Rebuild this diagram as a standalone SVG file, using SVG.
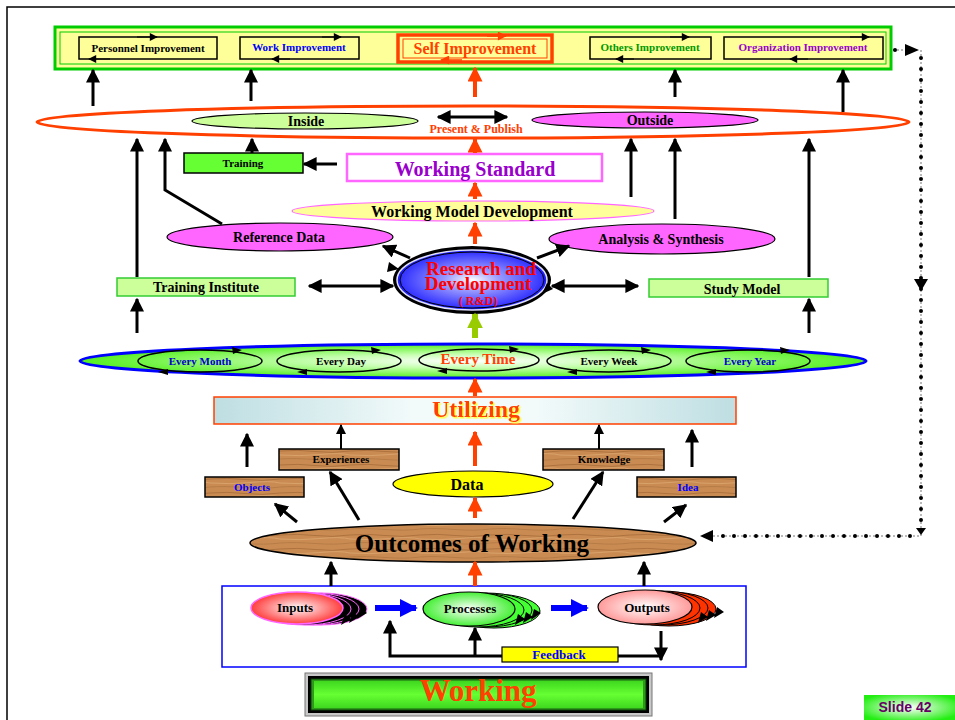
<svg xmlns="http://www.w3.org/2000/svg" width="955" height="720" viewBox="0 0 955 720">
<defs>
<style>
text{font-family:"Liberation Serif","Times New Roman",serif;font-weight:bold;text-anchor:middle}
.k{stroke:#000;stroke-width:3;fill:none}
.kt{stroke:#000;stroke-width:2;fill:none}
.r{stroke:#FF4000;stroke-width:4;fill:none}
.box{fill:none;stroke:#000;stroke-width:1.5}
.wood{fill:url(#wood);stroke:#000;stroke-width:1.5}
.cyc{fill:none;stroke:#000;stroke-width:1.5}
.dots{stroke:#000;stroke-width:4;stroke-linecap:round;stroke-dasharray:0 11;fill:none}
.dash{stroke:#777;stroke-width:1;stroke-dasharray:2 2;fill:none}
</style>
<marker id="ah" viewBox="0 0 10 10" refX="9" refY="5" markerWidth="14" markerHeight="14" markerUnits="userSpaceOnUse" orient="auto-start-reverse"><path d="M0,0 L10,5 L0,10 z" fill="#000"/></marker>
<marker id="ahs" viewBox="0 0 10 10" refX="9" refY="5" markerWidth="10" markerHeight="10" markerUnits="userSpaceOnUse" orient="auto"><path d="M0,0 L10,5 L0,10 z" fill="#000"/></marker>
<marker id="ahr" viewBox="0 0 10 10" refX="9" refY="5" markerWidth="15" markerHeight="15" markerUnits="userSpaceOnUse" orient="auto"><path d="M0,0 L10,5 L0,10 z" fill="#FF4000"/></marker>
<marker id="ahb" viewBox="0 0 10 10" refX="9" refY="5" markerWidth="18" markerHeight="18" markerUnits="userSpaceOnUse" orient="auto"><path d="M0,0 L10,5 L0,10 z" fill="#0000FF"/></marker>
<marker id="ahg" viewBox="0 0 10 10" refX="9" refY="5" markerWidth="16" markerHeight="16" markerUnits="userSpaceOnUse" orient="auto"><path d="M0,0 L10,5 L0,10 z" fill="#99CC00"/></marker>
<marker id="cyk" viewBox="0 0 10 10" refX="9" refY="5" markerWidth="9" markerHeight="8" markerUnits="userSpaceOnUse" orient="auto"><path d="M0,0 L10,5 L0,10 z" fill="#000"/></marker>
<marker id="cyr" viewBox="0 0 10 10" refX="9" refY="5" markerWidth="11" markerHeight="9" markerUnits="userSpaceOnUse" orient="auto"><path d="M0,0 L10,5 L0,10 z" fill="#FF4000"/></marker>
<pattern id="wood" width="70" height="14" patternUnits="userSpaceOnUse">
<rect width="70" height="14" fill="#C98B52"/>
<path d="M0,3 Q18,1.5 35,3.5 T70,3" stroke="#A66B38" stroke-width="0.8" fill="none"/>
<path d="M0,7 Q20,8.5 40,6.5 T70,7" stroke="#D9A26B" stroke-width="1" fill="none"/>
<path d="M0,11 Q15,10 35,11.5 T70,11" stroke="#AE743F" stroke-width="0.7" fill="none"/>
</pattern>
<radialGradient id="gTime" cx="0.5" cy="0.5" r="0.5"><stop offset="0" stop-color="#FFFFFF"/><stop offset="0.4" stop-color="#C6FFB0"/><stop offset="1" stop-color="#55F020"/></radialGradient>
<linearGradient id="gUtil" x1="0" y1="0" x2="1" y2="0"><stop offset="0" stop-color="#BEDEE2"/><stop offset="0.38" stop-color="#F2FAFA"/><stop offset="0.62" stop-color="#F2FAFA"/><stop offset="1" stop-color="#BEDEE2"/></linearGradient>
<radialGradient id="gRD" cx="0.5" cy="0.5" r="0.55"><stop offset="0" stop-color="#FFFFFF"/><stop offset="0.35" stop-color="#9999FF"/><stop offset="1" stop-color="#2020FF"/></radialGradient>
<radialGradient id="gIn" cx="0.5" cy="0.5" r="0.55"><stop offset="0" stop-color="#FFFFFF"/><stop offset="1" stop-color="#FF2A2A"/></radialGradient>
<radialGradient id="gPr" cx="0.5" cy="0.5" r="0.55"><stop offset="0" stop-color="#FFFFFF"/><stop offset="1" stop-color="#33EE22"/></radialGradient>
<radialGradient id="gOut" cx="0.5" cy="0.5" r="0.55"><stop offset="0" stop-color="#FFFFFF"/><stop offset="1" stop-color="#FF9090"/></radialGradient>
<radialGradient id="gSlide" cx="0.5" cy="0.5" r="0.6"><stop offset="0" stop-color="#FFFFFF"/><stop offset="1" stop-color="#22EE11"/></radialGradient>
<linearGradient id="gWork" x1="0" y1="0" x2="0" y2="1"><stop offset="0" stop-color="#3FD81F"/><stop offset="0.5" stop-color="#66FF33"/><stop offset="1" stop-color="#3FD81F"/></linearGradient>
<filter id="yshadow" x="-10%" y="-30%" width="120%" height="160%"><feDropShadow dx="1.5" dy="1.5" stdDeviation="0" flood-color="#FFFF33" flood-opacity="1"/></filter>
</defs>

<rect width="955" height="720" fill="#FFFFFF"/>
<!-- slide frame -->
<path d="M7,720 V7 H955" fill="none" stroke="#000" stroke-width="1.5"/>

<!-- improvement band -->
<g id="improvement-band">
<rect x="55" y="27" width="836" height="42" fill="#FFFF99" stroke="#00CC00" stroke-width="3"/>
<rect x="60" y="32" width="826" height="32" fill="none" stroke="#00CC00" stroke-width="1"/>
</g>
<g id="personnel-improvement">
<rect class="box" x="79" y="37" width="138" height="22"/>
<path d="M137,37 H157" stroke="#000" stroke-width="1" marker-end="url(#cyk)"/>
<path d="M110,59 H89" stroke="#000" stroke-width="1" marker-end="url(#cyk)"/>
<text x="148" y="52" font-size="11" fill="#000">Personnel Improvement</text>
</g>
<g id="work-improvement">
<rect class="box" x="240" y="37" width="119" height="22"/>
<path d="M322,37 H341" stroke="#000" stroke-width="1" marker-end="url(#cyk)"/>
<path d="M290,59 H272" stroke="#000" stroke-width="1" marker-end="url(#cyk)"/>
<text x="299" y="51" font-size="11" fill="#0000FF">Work Improvement</text>
</g>
<g id="self-improvement">
<rect x="398" y="35" width="154" height="27" fill="none" stroke="#FF4000" stroke-width="3.5"/>
<rect x="403" y="39" width="144" height="19" fill="none" stroke="#FF4000" stroke-width="1"/>
<path d="M487,36 H506" stroke="#FF4000" stroke-width="1.5" marker-end="url(#cyr)"/>
<path d="M462,60 H441" stroke="#FF4000" stroke-width="1.5" marker-end="url(#cyr)"/>
<text x="475" y="54" font-size="16" fill="#FF4000">Self Improvement</text>
</g>
<g id="others-improvement">
<rect class="box" x="590" y="37" width="121" height="22"/>
<path d="M670,37 H689" stroke="#000" stroke-width="1" marker-end="url(#cyk)"/>
<path d="M634,59 H616" stroke="#000" stroke-width="1" marker-end="url(#cyk)"/>
<text x="650" y="51" font-size="11" fill="#009900">Others Improvement</text>
</g>
<g id="organization-improvement">
<rect class="box" x="724" y="37" width="159" height="22"/>
<path d="M850,37 H869" stroke="#000" stroke-width="1" marker-end="url(#cyk)"/>
<path d="M808,59 H790" stroke="#000" stroke-width="1" marker-end="url(#cyk)"/>
<text x="803" y="51" font-size="11" fill="#9900CC">Organization Improvement</text>
</g>

<!-- inside / outside ring -->
<g id="present-publish-ring">
<ellipse cx="473" cy="122" rx="436" ry="16" fill="#FFFFFF" stroke="#FF4000" stroke-width="3"/>
<text x="476" y="133" font-size="12" fill="#FF4000">Present &amp; Publish</text>
</g>
<g id="inside">
<ellipse cx="305" cy="121" rx="113" ry="8" fill="#CCFF99" stroke="#000" stroke-width="1.2"/>
<text x="306" y="126" font-size="14" fill="#000">Inside</text>
</g>
<g id="outside">
<ellipse cx="645" cy="120" rx="113" ry="8" fill="#FF66FF" stroke="#000" stroke-width="1.2"/>
<text x="650" y="125" font-size="14" fill="#000">Outside</text>
</g>

<g id="training">
<rect x="184" y="153" width="119" height="20" fill="#66FF33" stroke="#000" stroke-width="1.5"/>
<text x="243" y="167" font-size="11" fill="#000">Training</text>
</g>
<g id="working-standard">
<rect x="347" y="154" width="255" height="27" fill="#FFFFFF" stroke="#FF66FF" stroke-width="2.5"/>
<text x="475" y="176" font-size="20" fill="#9900CC">Working Standard</text>
</g>
<g id="working-model-development">
<ellipse cx="473" cy="211" rx="181" ry="10" fill="#FFFF99" stroke="#FF66FF" stroke-width="1.2"/>
<text x="472" y="217" font-size="16" fill="#000">Working Model Development</text>
</g>
<g id="reference-data">
<ellipse cx="280" cy="237" rx="113" ry="14" fill="#FF66FF" stroke="#000" stroke-width="1.2"/>
<text x="279" y="242" font-size="14" fill="#000">Reference Data</text>
</g>
<g id="analysis-synthesis">
<ellipse cx="662" cy="239" rx="113" ry="15" fill="#FF66FF" stroke="#000" stroke-width="1.2"/>
<text x="661" y="244" font-size="14" fill="#000">Analysis &amp; Synthesis</text>
</g>

<g id="research-development">
<ellipse cx="472" cy="280" rx="79" ry="34" fill="#000"/>
<ellipse cx="472" cy="280" rx="75" ry="30" fill="#2020FF" stroke="#E0E0FF" stroke-width="1.5"/>
<ellipse cx="472" cy="280" rx="72" ry="28" fill="url(#gRD)" stroke="#000" stroke-width="1"/>
<path d="M389,262 L399,269 L387,272 z" fill="#000"/>
<path d="M553,289 L542,294 L547,283 z" fill="#000"/>
<text x="481" y="275" font-size="19" fill="#FF0000">Research and</text>
<text x="478" y="290" font-size="19" fill="#FF0000">Development</text>
<text x="478" y="305" font-size="12" fill="#FF0000">( R&amp;D)</text>
</g>

<g id="training-institute">
<rect x="117" y="278" width="178" height="18" fill="#CCFF99" stroke="#33CC33" stroke-width="1.5"/>
<text x="206" y="292" font-size="14" fill="#000">Training Institute</text>
</g>
<g id="study-model">
<rect x="649" y="279" width="179" height="18" fill="#CCFF99" stroke="#33CC33" stroke-width="1.5"/>
<text x="742" y="294" font-size="14" fill="#000">Study Model</text>
</g>

<!-- time cycle band -->
<g id="time-band">
<ellipse cx="473" cy="361" rx="393" ry="17" fill="url(#gTime)" stroke="#0000FF" stroke-width="3"/>
</g>
<g id="every-month">
<ellipse class="cyc" cx="200" cy="361" rx="62" ry="11"/>
<path d="M242,350 L232,347 L233,354 z" fill="#000"/>
<path d="M158,372 L168,369 L168,375 z" fill="#000"/>
<text x="200" y="365" font-size="11" fill="#0000CC">Every Month</text>
</g>
<g id="every-day">
<ellipse class="cyc" cx="339" cy="361" rx="62" ry="11"/>
<path d="M381,350 L371,347 L372,354 z" fill="#000"/>
<path d="M297,372 L307,369 L307,375 z" fill="#000"/>
<text x="341" y="365" font-size="11" fill="#000">Every Day</text>
</g>
<g id="every-time">
<ellipse class="cyc" cx="479" cy="360" rx="60" ry="11"/>
<path d="M519,349 L509,346 L510,353 z" fill="#000"/>
<path d="M437,371 L447,368 L447,374 z" fill="#000"/>
<text x="478" y="364" font-size="15" fill="#FF4000">Every Time</text>
</g>
<g id="every-week">
<ellipse class="cyc" cx="609" cy="361" rx="62" ry="11"/>
<path d="M651,350 L641,347 L642,354 z" fill="#000"/>
<path d="M567,372 L577,369 L577,375 z" fill="#000"/>
<text x="609" y="365" font-size="11" fill="#000">Every Week</text>
</g>
<g id="every-year">
<ellipse class="cyc" cx="748" cy="361" rx="62" ry="11"/>
<path d="M790,350 L780,347 L781,354 z" fill="#000"/>
<path d="M706,372 L716,369 L716,375 z" fill="#000"/>
<text x="750" y="365" font-size="11" fill="#0000CC">Every Year</text>
</g>

<g id="utilizing">
<rect x="214" y="397" width="522" height="27" fill="url(#gUtil)" stroke="#FF4000" stroke-width="1.5"/>
<text x="476" y="417" font-size="24" fill="#FF4000" filter="url(#yshadow)">Utilizing</text>
</g>

<g id="experiences">
<rect class="wood" x="279" y="449" width="120" height="21"/>
<text x="341" y="463" font-size="11" fill="#000">Experiences</text>
</g>
<g id="objects">
<rect class="wood" x="205" y="477" width="99" height="20"/>
<text x="252" y="491" font-size="11" fill="#0000FF">Objects</text>
</g>
<g id="data">
<ellipse cx="473" cy="484" rx="80" ry="13" fill="#FFFF00" stroke="#000" stroke-width="1.2"/>
<text x="467" y="490" font-size="16" fill="#000">Data</text>
</g>
<g id="knowledge">
<rect class="wood" x="543" y="449" width="121" height="21"/>
<text x="604" y="463" font-size="11" fill="#000">Knowledge</text>
</g>
<g id="idea">
<rect class="wood" x="637" y="477" width="99" height="20"/>
<text x="688" y="491" font-size="11" fill="#0000FF">Idea</text>
</g>

<g id="outcomes-of-working">
<ellipse cx="473" cy="543" rx="223" ry="19" fill="url(#wood)" stroke="#000" stroke-width="1.5"/>
<text x="472" y="552" font-size="25" fill="#000">Outcomes of Working</text>
</g>

<!-- working cycle -->
<g id="working-cycle">
<rect x="222" y="586" width="524" height="81" fill="#FFFFFF" stroke="#0000FF" stroke-width="1.5"/>
</g>
<g id="inputs">
<ellipse cx="321" cy="609" rx="46" ry="16" fill="#000" stroke="#FF66FF" stroke-width="1"/>
<ellipse cx="313" cy="609" rx="46" ry="16" fill="#000" stroke="#FF66FF" stroke-width="1"/>
<ellipse cx="305" cy="609" rx="46" ry="16" fill="#000" stroke="#FF66FF" stroke-width="1"/>
<path d="M367,613 L357,619 L361,608 z M359,617 L349,623 L353,612 z M351,619 L341,625 L345,614 z" fill="#000"/>
<ellipse cx="297" cy="608" rx="46" ry="16" fill="url(#gIn)" stroke="#FF66FF" stroke-width="1.5"/>
<text x="295" y="612" font-size="13" fill="#000">Inputs</text>
</g>
<g id="processes">
<ellipse cx="494" cy="611" rx="46" ry="17" fill="#44FF33" stroke="#000" stroke-width="1"/>
<ellipse cx="486" cy="610" rx="46" ry="17" fill="#44FF33" stroke="#000" stroke-width="1"/>
<ellipse cx="478" cy="610" rx="46" ry="17" fill="#44FF33" stroke="#000" stroke-width="1"/>
<path d="M541,613 L531,620 L534,609 z M533,617 L523,623 L526,612 z M525,619 L515,625 L518,614 z" fill="#000"/>
<ellipse cx="469" cy="609" rx="46" ry="17" fill="url(#gPr)" stroke="#000" stroke-width="1.2"/>
<text x="470" y="613" font-size="13" fill="#000">Processes</text>
</g>
<g id="outputs">
<ellipse cx="669" cy="609" rx="47" ry="17" fill="#FF3300" stroke="#000" stroke-width="1"/>
<ellipse cx="661" cy="608" rx="47" ry="17" fill="#FF3300" stroke="#000" stroke-width="1"/>
<ellipse cx="653" cy="608" rx="47" ry="17" fill="#FF3300" stroke="#000" stroke-width="1"/>
<path d="M724,612 L714,618 L717,607 z M716,615 L706,621 L709,610 z M708,617 L698,623 L701,612 z" fill="#000"/>
<ellipse cx="645" cy="607" rx="47" ry="17" fill="url(#gOut)" stroke="#000" stroke-width="1.2"/>
<text x="647" y="612" font-size="13" fill="#000">Outputs</text>
</g>
<g id="feedback">
<rect x="502" y="647" width="116" height="15" fill="#FFFF00" stroke="#000" stroke-width="1.2"/>
<text x="559" y="659" font-size="13" fill="#0000FF">Feedback</text>
</g>

<g id="working">
<rect x="305" y="673" width="347" height="43" fill="#C8C8C8" stroke="#777" stroke-width="1"/>
<rect x="308" y="676" width="341" height="37" fill="#000"/>
<rect x="311" y="679" width="335" height="31" fill="#2E9A1A" stroke="#0A3A0A" stroke-width="1"/>
<rect x="314" y="681" width="329" height="27" fill="url(#gWork)"/>
<text x="478" y="701" font-size="31" fill="#FF4000">Working</text>
</g>

<g id="slide-number">
<rect x="864" y="695" width="91" height="25" fill="url(#gSlide)"/>
<text x="905" y="712" font-size="14" fill="#660066" style="font-family:'Liberation Sans',Arial,sans-serif">Slide 42</text>
</g>

<!-- connectors -->
<g id="connectors">
<path class="k" d="M93,106 V70" marker-end="url(#ah)"/>
<path class="k" d="M251,101 V70" marker-end="url(#ah)"/>
<path class="r" d="M475,97 V68" marker-end="url(#ahr)"/>
<path class="k" d="M675,97 V70" marker-end="url(#ah)"/>
<path class="k" d="M843,112 V70" marker-end="url(#ah)"/>

<path class="k" d="M438,117 H507" marker-start="url(#ah)" marker-end="url(#ah)"/>
<path class="k" d="M337,164 H304" marker-end="url(#ah)"/>
<path class="k" d="M252,153 V139" marker-end="url(#ah)"/>
<path class="r" d="M475,153 V139" marker-end="url(#ahr)"/>
<path class="r" d="M475,199 V183" marker-end="url(#ahr)"/>
<path class="r" d="M475,244 V223" marker-end="url(#ahr)"/>
<path class="k" d="M137,277 V139" marker-end="url(#ah)"/>
<path class="k" d="M222,224 L165,190 V139" marker-end="url(#ah)"/>
<path class="k" d="M631,197 V139" marker-end="url(#ah)"/>
<path class="k" d="M675,219 V139" marker-end="url(#ah)"/>
<path class="k" d="M809,277 V139" marker-end="url(#ah)"/>
<path class="k" d="M410,258 L383,246" marker-end="url(#ah)"/>
<path class="k" d="M537,258 L569,246" marker-end="url(#ah)"/>
<path class="k" d="M309,286 H393" marker-start="url(#ah)" marker-end="url(#ah)"/>
<path class="k" d="M552,286 H638" marker-start="url(#ah)" marker-end="url(#ah)"/>
<path class="k" d="M137,333 V299" marker-end="url(#ah)"/>
<path class="k" d="M809,333 V299" marker-end="url(#ah)"/>
<path d="M475,338 V314" stroke="#99CC00" stroke-width="6" fill="none" marker-end="url(#ahg)"/>

<path class="r" d="M475,396 V379" marker-end="url(#ahr)"/>
<path class="k" d="M247,467 V434" marker-end="url(#ah)"/>
<path class="kt" d="M341,449 V425" marker-end="url(#ahs)"/>
<path class="r" d="M475,466 V432" marker-end="url(#ahr)"/>
<path class="kt" d="M599,449 V425" marker-end="url(#ahs)"/>
<path class="k" d="M692,467 V430" marker-end="url(#ah)"/>
<path class="k" d="M297,522 L275,504" marker-end="url(#ah)"/>
<path class="k" d="M359,520 L330,472" marker-end="url(#ah)"/>
<path class="r" d="M475,518 V498" marker-end="url(#ahr)"/>
<path class="k" d="M573,519 L603,472" marker-end="url(#ah)"/>
<path class="k" d="M664,522 L686,505" marker-end="url(#ah)"/>

<path class="k" d="M331,586 V562" marker-end="url(#ah)"/>
<path class="r" d="M475,586 V562" marker-end="url(#ahr)"/>
<path class="k" d="M644,586 V562" marker-end="url(#ah)"/>

<path d="M375,608 H416" stroke="#0000FF" stroke-width="6" fill="none" marker-end="url(#ahb)"/>
<path d="M551,608 H587" stroke="#0000FF" stroke-width="6" fill="none" marker-end="url(#ahb)"/>

<path class="k" d="M502,656 H390 V621" marker-end="url(#ah)"/>
<path class="k" d="M475,656 V628" marker-end="url(#ah)"/>
<path class="k" d="M618,656 H661"/>
<path class="k" d="M661,631 V660" marker-end="url(#ah)"/>

<!-- dotted feedback loop from improvement back to outcomes -->
<path class="dash" d="M893,50 H906 M921,50 V536 H712"/>
<path class="dots" d="M895,50 H906"/>
<path class="dots" d="M921,58 V530"/>
<path class="dots" d="M910,536 H712"/>
<path d="M905,44 L919,50 L905,56 z" fill="#000"/>
<path d="M914,279 L928,279 L921,291 z" fill="#000"/>
<path d="M916,528 L926,528 L921,535 z" fill="#000"/>
<path d="M713,530 L700,536 L713,542 z" fill="#000"/>
</g>
</svg>
